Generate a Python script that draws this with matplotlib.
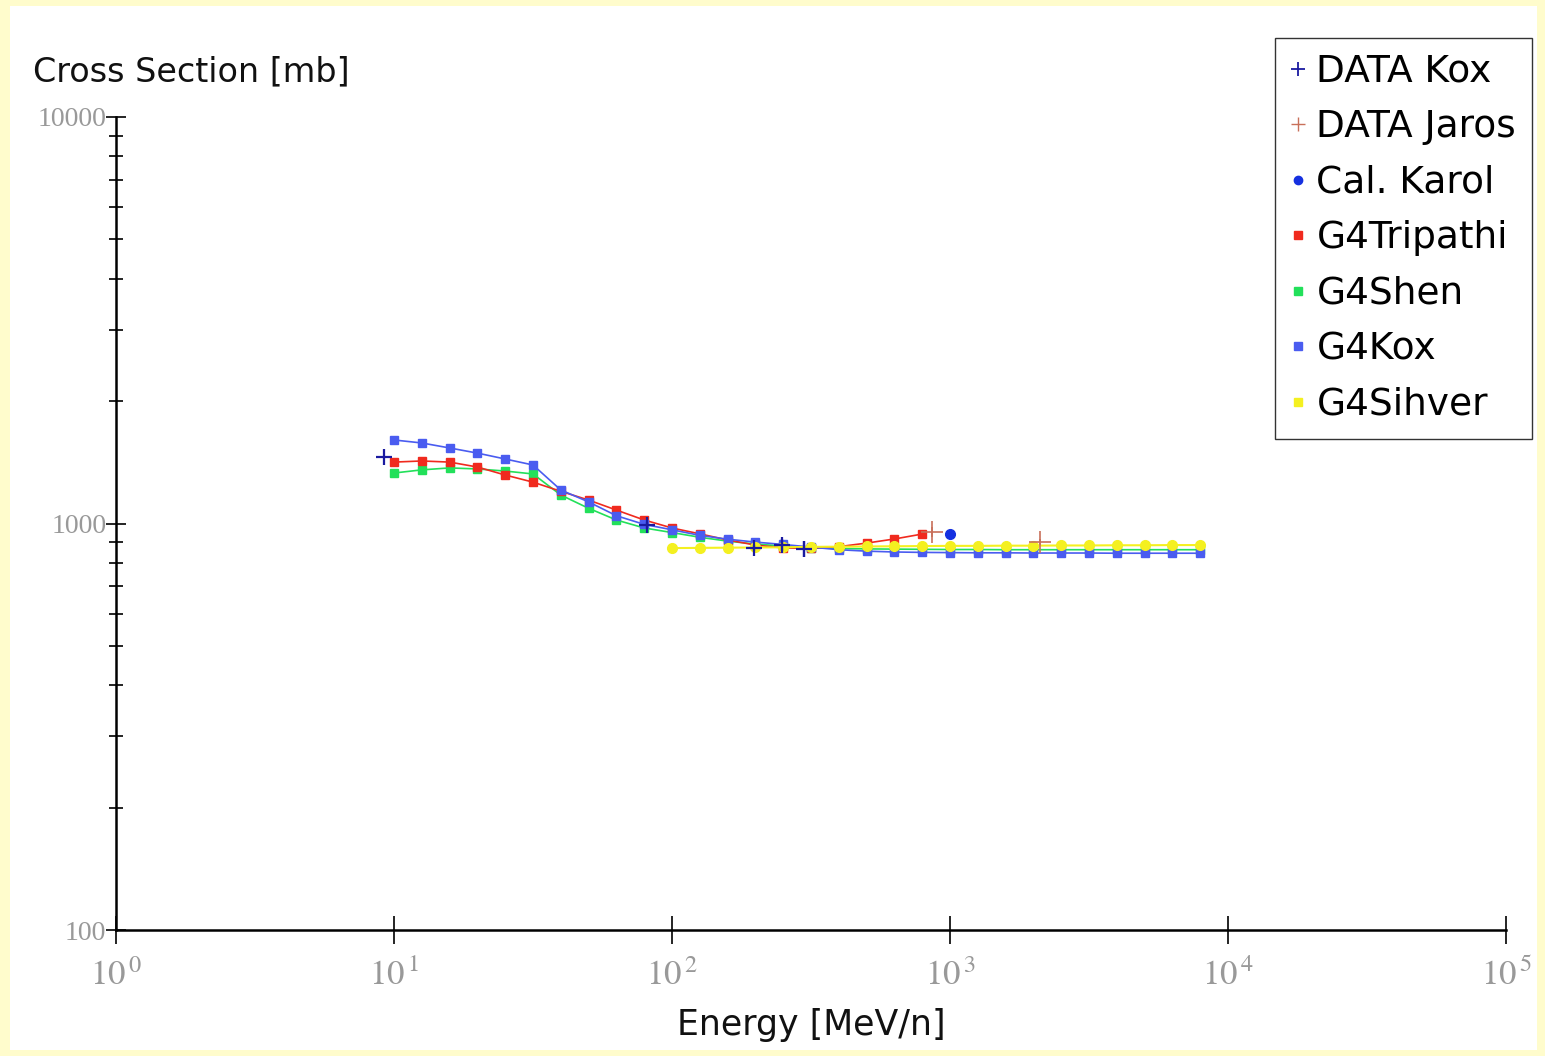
import matplotlib
matplotlib.use("Agg")
import matplotlib.pyplot as plt
import numpy as np
from matplotlib.lines import Line2D
from matplotlib.patches import Rectangle
from matplotlib.ticker import FixedLocator, FuncFormatter, NullFormatter

plt.rcParams["mathtext.fontset"] = "stix"

# G4 model energies: 10 MeV/n .. 10^3.9 MeV/n in 0.1 dex steps
g4_energy = [10 ** (1 + 0.1 * k) for k in range(30)]

g4_kox = [1605, 1578, 1534, 1490, 1441, 1393, 1209, 1130, 1045, 995,
          965, 935, 915, 900, 888, 875, 862, 855, 851, 849,
          848, 847, 847, 846, 846, 846, 845, 845, 845, 845]
g4_shen = [1331, 1355, 1370, 1362, 1346, 1324, 1175, 1090, 1020, 975,
           950, 925, 905, 890, 880, 872, 868, 866, 865, 864,
           863, 863, 862, 862, 862, 862, 862, 862, 862, 862]
g4_tripathi = [1416, 1425, 1416, 1377, 1316, 1264, 1200, 1142, 1079, 1020,
               975, 943, 911, 885, 871, 868, 877, 895, 916, 942]
g4_sihver = [870, 871, 872, 873, 874, 876, 877, 878, 879, 880,
             881, 881, 882, 882, 883, 883, 884, 884, 885, 885]

kox_energy = [9.2, 81.5, 197, 249, 298]
kox_xs = [1459, 990, 871, 884, 866]
kox_err = [0, 20, 15, 30, 40]

jaros_energy = [861, 2108]
jaros_xs = [953, 900]
jaros_err = [28, 15]

karol_energy = [1000]
karol_xs = [940]

legend_labels = ["DATA Kox", "DATA Jaros", "Cal. Karol", "G4Tripathi",
                 "G4Shen", "G4Kox", "G4Sihver"]

c_tri = "#f02a1e"
c_shen = "#22e05a"
c_kox = "#4a5cf0"
c_sih = "#f4f020"
c_dkox = "#1a1aa0"
c_jaros = "#c8705a"
c_karol = "#1530e0"

fig = plt.figure(figsize=(15.45, 10.56), dpi=100)
fig.patch.set_facecolor("#fffccc")
fig.patches.append(Rectangle((10 / 1545, 6 / 1056), 1527 / 1545, 1044 / 1056,
                             transform=fig.transFigure, facecolor="white",
                             edgecolor="none", zorder=-10))

ax = fig.add_axes([116 / 1545, 1 - 930 / 1056, 1390 / 1545, 813 / 1056])
ax.set_zorder(2)
ax.patch.set_alpha(0)
ax.set_xscale("log")
ax.set_yscale("log")

# model curves
ax.plot(g4_energy, g4_kox, "-s", color=c_kox, lw=1.2, ms=6, mec=c_kox, zorder=3)
ax.plot(g4_energy, g4_shen, "-s", color=c_shen, lw=1.2, ms=6, mec=c_shen, zorder=2)
ax.plot(g4_energy[:len(g4_tripathi)], g4_tripathi, "-s", color=c_tri, lw=1.2, ms=6,
        mec=c_tri, zorder=2.5)
ax.plot(g4_energy[10:], g4_sihver, "-o", color=c_sih, lw=1.5, ms=7, mec=c_sih, zorder=4)

# data
ax.errorbar(kox_energy, kox_xs, yerr=kox_err, fmt="+", color=c_dkox, ms=12,
            mew=1.6, elinewidth=1.6, capsize=0, zorder=5)
ax.errorbar(jaros_energy, jaros_xs, yerr=jaros_err, fmt="+", color=c_jaros, ms=16,
            mew=1.2, elinewidth=1.2, capsize=0, zorder=5)
ax.plot(karol_energy, karol_xs, "o", color=c_karol, ms=7, zorder=5)

ax.set_xlim(1, 1e5)
ax.set_ylim(100, 10000)

for side in ["top", "right"]:
    ax.spines[side].set_visible(False)
for side in ["left", "bottom"]:
    ax.spines[side].set_linewidth(1.8)
    ax.spines[side].set_color("black")

ax.xaxis.set_major_locator(FixedLocator([1, 10, 100, 1e3, 1e4, 1e5]))
ax.xaxis.set_minor_locator(FixedLocator([]))
ax.xaxis.set_major_formatter(
    FuncFormatter(lambda v, p: r"$10^{\,%d}$" % int(round(np.log10(v)))))
ax.yaxis.set_major_locator(FixedLocator([100, 1000, 10000]))
ax.yaxis.set_minor_locator(FixedLocator(
    [m * d for d in (100, 1000) for m in range(2, 10)]))
ax.yaxis.set_major_formatter(FuncFormatter(lambda v, p: "%d" % v))
ax.yaxis.set_minor_formatter(NullFormatter())

ax.tick_params(axis="x", which="major", direction="inout", length=20, width=1.2,
               labelsize=25, labelcolor="#999999", pad=10)
ax.tick_params(axis="y", which="major", direction="inout", length=14, width=1.2,
               labelsize=20, labelcolor="#999999", pad=0)
ax.tick_params(axis="y", which="minor", direction="inout", length=10, width=1.2)
for lab in ax.get_yticklabels():
    lab.set_family("Liberation Serif")

fig.text(33 / 1545, 1 - 72 / 1056, "Cross Section [mb]", fontsize=24,
         va="center", ha="left", color="#111111")
fig.text(811 / 1545, 1 - 1025 / 1056, "Energy [MeV/n]", fontsize=25,
         va="center", ha="center", color="#111111")

handles = [
    Line2D([], [], ls="none", marker="+", color=c_dkox, ms=10, mew=1.3),
    Line2D([], [], ls="none", marker="+", color=c_jaros, ms=10, mew=1.0),
    Line2D([], [], ls="none", marker="o", color=c_karol, ms=6),
    Line2D([], [], ls="none", marker="s", color=c_tri, ms=6),
    Line2D([], [], ls="none", marker="s", color=c_shen, ms=6),
    Line2D([], [], ls="none", marker="s", color=c_kox, ms=6),
    Line2D([], [], ls="none", marker="s", color=c_sih, ms=6),
]
leg = fig.legend(handles, legend_labels, loc="upper right",
                 bbox_to_anchor=(1532 / 1545, 1 - 38 / 1056), fontsize=27,
                 frameon=True, fancybox=False, edgecolor="black",
                 handlelength=0.4, handletextpad=0.3, borderpad=0.42,
                 labelspacing=0.52, borderaxespad=0)
leg.get_frame().set_linewidth(1.0)

fig.savefig("out.png", dpi=100, facecolor=fig.get_facecolor())
